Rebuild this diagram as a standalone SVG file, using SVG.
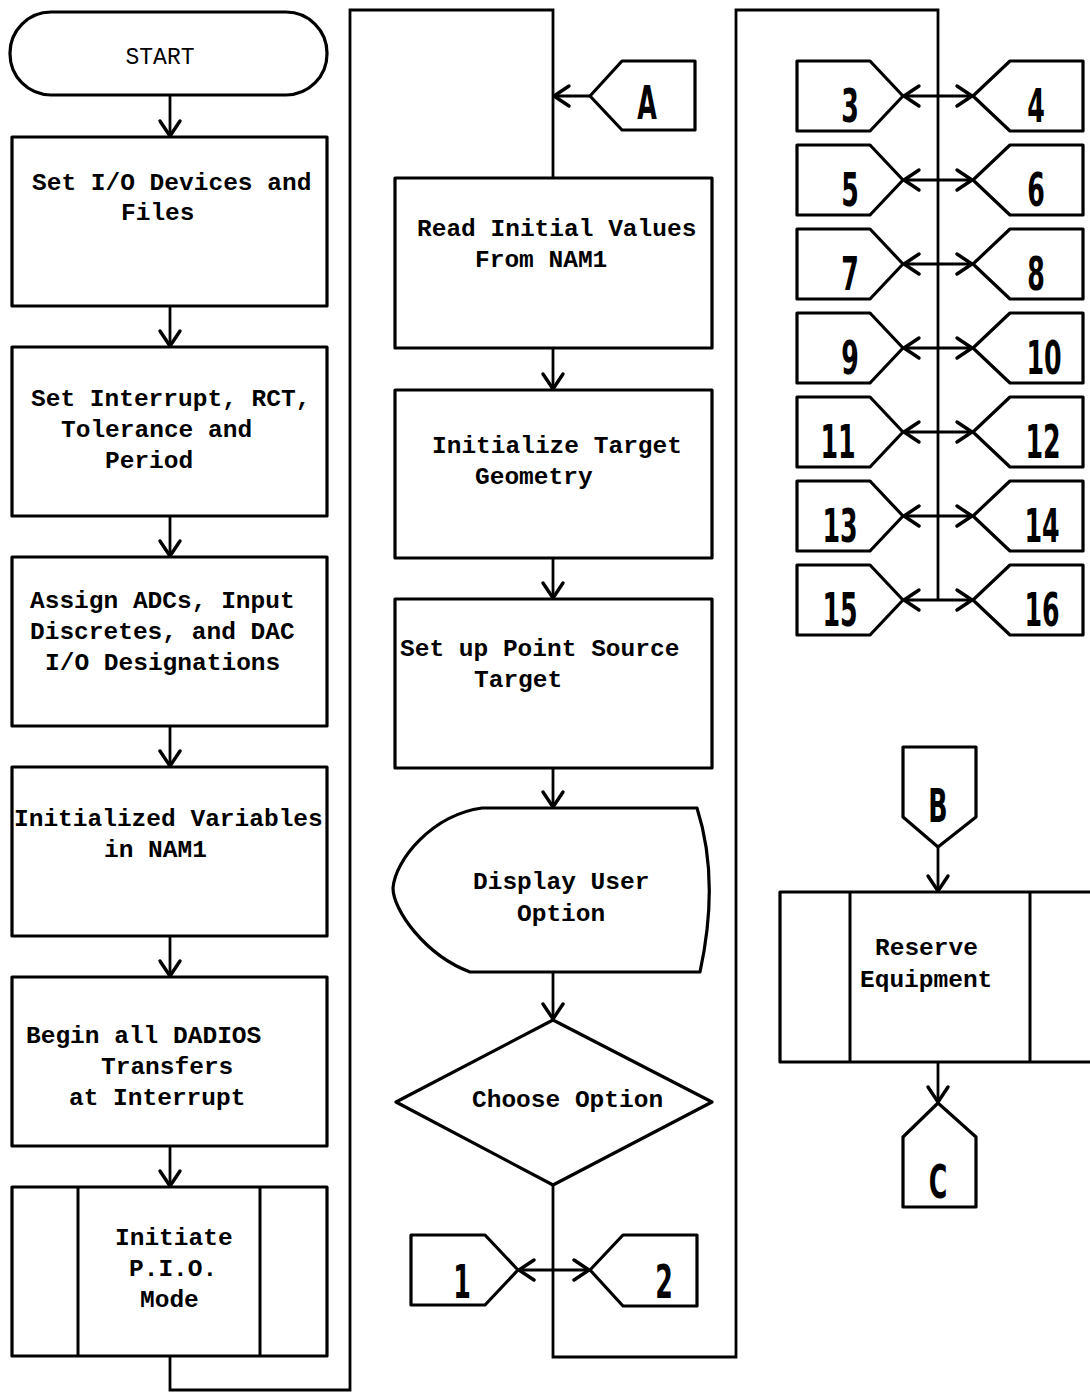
<svg xmlns="http://www.w3.org/2000/svg" width="1090" height="1395" viewBox="0 0 1090 1395">
<style>
.s{fill:none;stroke:#000;stroke-width:3;stroke-linejoin:round}
.b{fill:#fff;stroke:#000;stroke-width:3.2;stroke-linejoin:round}
.l{fill:none;stroke:#000;stroke-width:2.8}
.t{font-family:"Liberation Mono","Courier New",monospace;font-weight:bold;font-size:24.5px;fill:#000}
.st{font-family:"Liberation Mono","Courier New",monospace;font-size:23px;fill:#000}
.d{font-family:"DejaVu Sans","Liberation Sans",sans-serif;font-weight:bold;font-size:46px;fill:#000;text-anchor:middle}
</style>
<defs>
<marker id="ah" markerUnits="userSpaceOnUse" markerWidth="24" markerHeight="24" refX="0" refY="0" viewBox="-18 -12 24 24" orient="auto-start-reverse" overflow="visible">
<path d="M -15 -10 L 0 0 L -15 10" fill="none" stroke="#000" stroke-width="3.4" stroke-linecap="round" stroke-linejoin="round"/>
</marker>
</defs>
<rect width="1090" height="1395" fill="#fff"/>

<g id="connectors">
<line class="l" x1="170" y1="95" x2="170" y2="136" marker-end="url(#ah)"/>
<line class="l" x1="170" y1="306" x2="170" y2="346" marker-end="url(#ah)"/>
<line class="l" x1="170" y1="516" x2="170" y2="556" marker-end="url(#ah)"/>
<line class="l" x1="170" y1="726" x2="170" y2="766" marker-end="url(#ah)"/>
<line class="l" x1="170" y1="936" x2="170" y2="976" marker-end="url(#ah)"/>
<line class="l" x1="170" y1="1146" x2="170" y2="1186" marker-end="url(#ah)"/>
<polyline class="l" points="170,1356 170,1390 350,1390 350,10 553,10 553,178"/>
<line class="l" x1="590" y1="96" x2="554" y2="96" marker-end="url(#ah)"/>
<line class="l" x1="553" y1="348" x2="553" y2="389" marker-end="url(#ah)"/>
<line class="l" x1="553" y1="558" x2="553" y2="598" marker-end="url(#ah)"/>
<line class="l" x1="553" y1="768" x2="553" y2="807" marker-end="url(#ah)"/>
<line class="l" x1="553" y1="972" x2="553" y2="1019" marker-end="url(#ah)"/>
<polyline class="l" points="553,1185 553,1357 736,1357 736,10 938,10 938,600"/>
<line class="l" x1="519" y1="1270" x2="589" y2="1270" marker-start="url(#ah)" marker-end="url(#ah)"/>
<line class="l" x1="904" y1="96" x2="972" y2="96" marker-start="url(#ah)" marker-end="url(#ah)"/>
<line class="l" x1="904" y1="180" x2="972" y2="180" marker-start="url(#ah)" marker-end="url(#ah)"/>
<line class="l" x1="904" y1="264" x2="972" y2="264" marker-start="url(#ah)" marker-end="url(#ah)"/>
<line class="l" x1="904" y1="348" x2="972" y2="348" marker-start="url(#ah)" marker-end="url(#ah)"/>
<line class="l" x1="904" y1="432" x2="972" y2="432" marker-start="url(#ah)" marker-end="url(#ah)"/>
<line class="l" x1="904" y1="516" x2="972" y2="516" marker-start="url(#ah)" marker-end="url(#ah)"/>
<line class="l" x1="904" y1="600" x2="972" y2="600" marker-start="url(#ah)" marker-end="url(#ah)"/>
<line class="l" x1="938" y1="847" x2="938" y2="891" marker-end="url(#ah)"/>
<line class="l" x1="938" y1="1062" x2="938" y2="1102" marker-end="url(#ah)"/>
</g>

<g id="start">
<rect class="b" x="10" y="12" width="317" height="83" rx="41"/>
<text class="st" x="160" y="64" text-anchor="middle">START</text>
</g>
<g id="set-io">
<rect class="b" x="12" y="137" width="315" height="169"/>
<text class="t" x="32" y="190">Set I/O Devices and</text>
<text class="t" x="121" y="220">Files</text>
</g>
<g id="set-interrupt">
<rect class="b" x="12" y="347" width="315" height="169"/>
<text class="t" x="31" y="406">Set Interrupt, RCT,</text>
<text class="t" x="61" y="437">Tolerance and</text>
<text class="t" x="105" y="468">Period</text>
</g>
<g id="assign">
<rect class="b" x="12" y="557" width="315" height="169"/>
<text class="t" x="30" y="608">Assign ADCs, Input</text>
<text class="t" x="30" y="639">Discretes, and DAC</text>
<text class="t" x="45" y="670">I/O Designations</text>
</g>
<g id="init-vars">
<rect class="b" x="12" y="767" width="315" height="169"/>
<text class="t" x="14" y="826">Initialized Variables</text>
<text class="t" x="104" y="857">in NAM1</text>
</g>
<g id="begin-dadios">
<rect class="b" x="12" y="977" width="315" height="169"/>
<text class="t" x="26" y="1043">Begin all DADIOS</text>
<text class="t" x="101" y="1074">Transfers</text>
<text class="t" x="69" y="1105">at Interrupt</text>
</g>
<g id="pio">
<rect class="b" x="12" y="1187" width="315" height="169"/>
<line class="s" x1="78" y1="1187" x2="78" y2="1356"/>
<line class="s" x1="260" y1="1187" x2="260" y2="1356"/>
<text class="t" x="115" y="1245">Initiate</text>
<text class="t" x="129" y="1276">P.I.O.</text>
<text class="t" x="140" y="1307">Mode</text>
</g>

<g id="conn-a">
<polygon class="b" points="590,96 622,61 695,61 695,130 622,130"/>
<text class="d" transform="translate(647,119) scale(0.55,1)">A</text>
</g>
<g id="read-init">
<rect class="b" x="395" y="178" width="317" height="170"/>
<text class="t" x="417" y="236">Read Initial Values</text>
<text class="t" x="475" y="267">From NAM1</text>
</g>
<g id="init-target">
<rect class="b" x="395" y="390" width="317" height="168"/>
<text class="t" x="432" y="453">Initialize Target</text>
<text class="t" x="475" y="484">Geometry</text>
</g>
<g id="point-source">
<rect class="b" x="395" y="599" width="317" height="169"/>
<text class="t" x="400" y="656">Set up Point Source</text>
<text class="t" x="474" y="687">Target</text>
</g>
<g id="display">
<path class="b" d="M 482 808 L 697 808 Q 720 880 700 972 L 470 972 C 425 955 393 910 393 888 C 395 860 432 815 482 808 Z"/>
<text class="t" x="473" y="889">Display User</text>
<text class="t" x="517" y="921">Option</text>
</g>
<g id="choose">
<polygon class="b" points="553,1020 712,1102 553,1185 396,1102"/>
<text class="t" x="472" y="1107">Choose Option</text>
</g>
<g id="conn-1">
<polygon class="b" points="411,1235 485,1235 518,1270 485,1305 411,1305"/>
<text class="d" transform="translate(462,1298) scale(0.55,1)">1</text>
</g>
<g id="conn-2">
<polygon class="b" points="590,1270 623,1235 697,1235 697,1306 623,1306"/>
<text class="d" transform="translate(664,1298) scale(0.55,1)">2</text>
</g>

<g id="conn-3"><polygon class="b" points="797,61 870,61 903,96 870,131 797,131"/><text class="d" transform="translate(850,122) scale(0.55,1)">3</text></g>
<g id="conn-4"><polygon class="b" points="973,96 1010,61 1083,61 1083,131 1010,131"/><text class="d" transform="translate(1036,122) scale(0.55,1)">4</text></g>
<g id="conn-5"><polygon class="b" points="797,145 870,145 903,180 870,215 797,215"/><text class="d" transform="translate(850,206) scale(0.55,1)">5</text></g>
<g id="conn-6"><polygon class="b" points="973,180 1010,145 1083,145 1083,215 1010,215"/><text class="d" transform="translate(1036,206) scale(0.55,1)">6</text></g>
<g id="conn-7"><polygon class="b" points="797,229 870,229 903,264 870,299 797,299"/><text class="d" transform="translate(850,290) scale(0.55,1)">7</text></g>
<g id="conn-8"><polygon class="b" points="973,264 1010,229 1083,229 1083,299 1010,299"/><text class="d" transform="translate(1036,290) scale(0.55,1)">8</text></g>
<g id="conn-9"><polygon class="b" points="797,313 870,313 903,348 870,383 797,383"/><text class="d" transform="translate(850,374) scale(0.55,1)">9</text></g>
<g id="conn-10"><polygon class="b" points="973,348 1010,313 1083,313 1083,383 1010,383"/><text class="d" transform="translate(1044,374) scale(0.55,1)">10</text></g>
<g id="conn-11"><polygon class="b" points="797,397 870,397 903,432 870,467 797,467"/><text class="d" transform="translate(838,458) scale(0.55,1)">11</text></g>
<g id="conn-12"><polygon class="b" points="973,432 1010,397 1083,397 1083,467 1010,467"/><text class="d" transform="translate(1043,458) scale(0.55,1)">12</text></g>
<g id="conn-13"><polygon class="b" points="797,481 870,481 903,516 870,551 797,551"/><text class="d" transform="translate(840,542) scale(0.55,1)">13</text></g>
<g id="conn-14"><polygon class="b" points="973,516 1010,481 1083,481 1083,551 1010,551"/><text class="d" transform="translate(1042,542) scale(0.55,1)">14</text></g>
<g id="conn-15"><polygon class="b" points="797,565 870,565 903,600 870,635 797,635"/><text class="d" transform="translate(840,626) scale(0.55,1)">15</text></g>
<g id="conn-16"><polygon class="b" points="973,600 1010,565 1083,565 1083,635 1010,635"/><text class="d" transform="translate(1042,626) scale(0.55,1)">16</text></g>

<g id="conn-b">
<polygon class="b" points="903,747 976,747 976,817 938,847 903,817"/>
<text class="d" transform="translate(938,822) scale(0.55,1)">B</text>
</g>
<g id="reserve">
<rect class="b" x="780" y="892" width="315" height="170"/>
<line class="s" x1="850" y1="892" x2="850" y2="1062"/>
<line class="s" x1="1030" y1="892" x2="1030" y2="1062"/>
<text class="t" x="875" y="955">Reserve</text>
<text class="t" x="860" y="987">Equipment</text>
</g>
<g id="conn-c">
<polygon class="b" points="938,1103 976,1137 976,1207 903,1207 903,1137"/>
<text class="d" transform="translate(938,1198) scale(0.55,1)">C</text>
</g>
</svg>
